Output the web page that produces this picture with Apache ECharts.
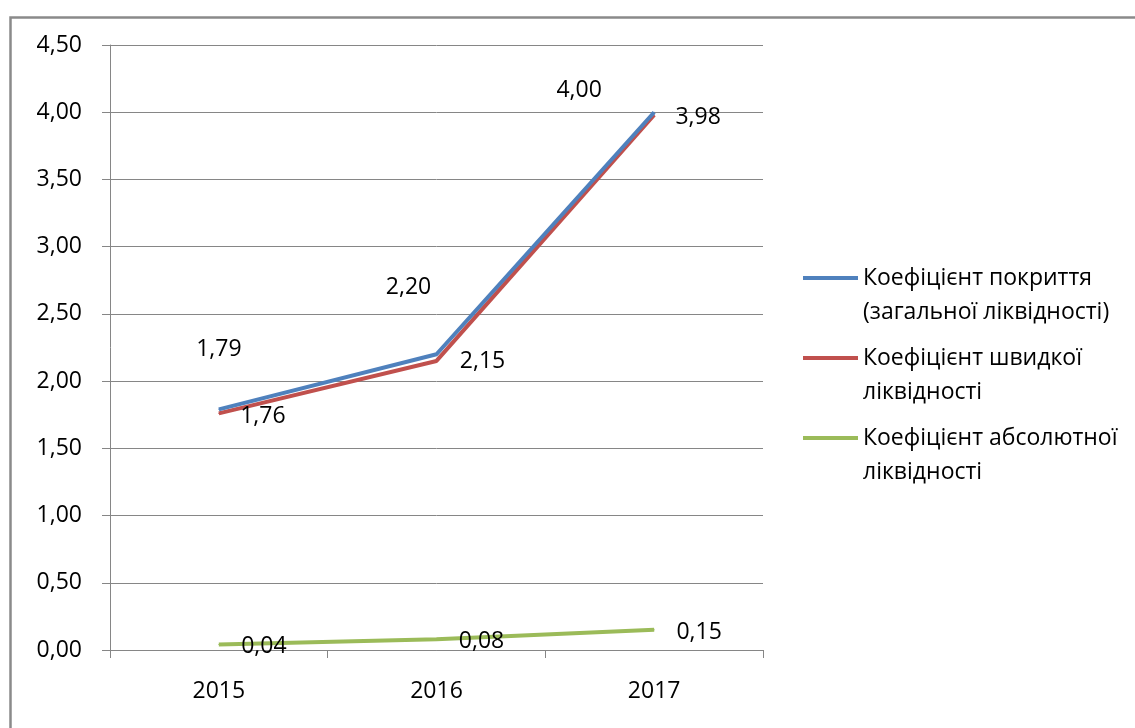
<!DOCTYPE html>
<html>
<head>
<meta charset="utf-8">
<script src="https://cdn.jsdelivr.net/npm/echarts@6/dist/echarts.min.js"></script>
<style>
  html, body { margin: 0; padding: 0; background: #fff; }
  #chart { width: 1135px; height: 728px; }
</style>
</head>
<body>
<div id="chart"></div>
<script>
const years = ["2015", "2016", "2017"];
const seriesNames = [
  "Коефіцієнт покриття (загальної ліквідності)",
  "Коефіцієнт швидкої ліквідності",
  "Коефіцієнт абсолютної ліквідності",
];
// leading blank line keeps the legend line level with the first text row
const legendText = [
  "\nКоефіцієнт покриття\n(загальної ліквідності)",
  "\nКоефіцієнт швидкої\nліквідності",
  "\nКоефіцієнт абсолютної\nліквідності",
];
const coverage = [1.79, 2.2, 4.0];
const quick = [1.76, 2.15, 3.98];
const absolute = [0.04, 0.08, 0.15];
const colors = ["#4f81bd", "#c0504d", "#9bbb59"];

// where each data label sits relative to its point (Excel placed them by hand)
const labelOffsets = [
  [[0, -60], [-28, -67], [-75, -22]],
  [[44, 3], [46, 1], [44, 3]],
  [[45, 2], [45, 2], [45, 3]],
];

const font = "'Open Sans', 'Noto Sans', sans-serif";
const fontSize = 23;
const fmt = (v) => v.toFixed(2).replace(".", ",");

const chart = echarts.init(document.getElementById("chart"));

function makeSeries(i, values) {
  return {
    name: seriesNames[i],
    type: "line",
    symbol: "circle",
    symbolSize: 1,
    showSymbol: true,
    z: 3 - i,
    lineStyle: { color: colors[i], width: 4 },
    itemStyle: { color: colors[i] },
    label: {
      show: true,
      position: "inside",
      formatter: (p) => fmt(p.value),
      color: "#000",
      fontFamily: font,
      fontSize: fontSize,
    },
    labelLayout: (p) => {
      const off = labelOffsets[i][p.dataIndex];
      return {
        x: p.rect.x + p.rect.width / 2 + off[0],
        y: p.rect.y + p.rect.height / 2 + off[1],
        align: "center",
        verticalAlign: "middle",
      };
    },
    data: values,
  };
}

chart.setOption({
  animation: false,
  backgroundColor: "#fff",
  graphic: [
    {
      type: "rect",
      left: 8,
      top: 15,
      shape: { width: 1300, height: 900 },
      style: { fill: "none", stroke: "#8a8a8a", lineWidth: 2.5 },
      z: -1,
    },
  ],
  grid: { left: 110, right: 372, top: 45, bottom: 78 },
  legend: {
    orient: "vertical",
    left: 803,
    top: 227,
    padding: 0,
    itemWidth: 55,
    itemHeight: 4,
    itemGap: -22,
    icon: "rect",
    data: seriesNames,
    formatter: (name) => legendText[seriesNames.indexOf(name)],
    textStyle: {
      fontFamily: font,
      fontSize: fontSize,
      color: "#000",
      lineHeight: 34,
    },
  },
  xAxis: {
    type: "category",
    data: years,
    boundaryGap: true,
    axisLine: { lineStyle: { color: "#868686", width: 1 } },
    axisTick: { show: true, length: 8, lineStyle: { color: "#868686" } },
    axisLabel: { color: "#000", fontFamily: font, fontSize: fontSize, margin: 30 },
  },
  yAxis: {
    type: "value",
    min: 0,
    max: 4.5,
    interval: 0.5,
    axisLine: { show: true, lineStyle: { color: "#868686", width: 1 } },
    axisTick: { show: true, length: 8, lineStyle: { color: "#868686" } },
    splitLine: { lineStyle: { color: "#868686", width: 1 } },
    axisLabel: {
      color: "#000",
      fontFamily: font,
      fontSize: fontSize,
      margin: 28,
      formatter: (v) => fmt(v),
    },
  },
  series: [makeSeries(0, coverage), makeSeries(1, quick), makeSeries(2, absolute)],
});
</script>
</body>
</html>
